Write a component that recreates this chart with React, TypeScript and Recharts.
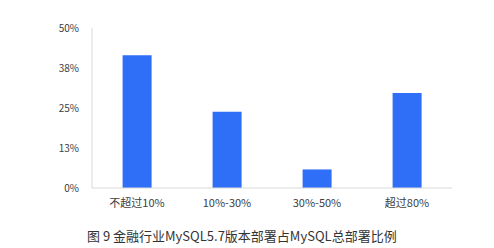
import React from 'react';
import { BarChart, Bar, XAxis, YAxis } from 'recharts';

const categories = ['不超过10%', '10%-30%', '30%-50%', '超过80%'];
const shares = [0.415, 0.238, 0.058, 0.297];
const yTicks = [0, 0.125, 0.25, 0.375, 0.5];

const data = categories.map((name, i) => ({ name, value: shares[i] }));

const FONT = '"Noto Sans CJK SC", "Noto Sans", sans-serif';

export default function App() {
  return (
    <div style={{ position: 'absolute', left: 0, top: 0, width: 494, height: 248, background: '#fff', fontFamily: FONT }}>
      <BarChart
        width={494}
        height={220}
        data={data}
        margin={{ top: 28, right: 42, bottom: 2, left: 0 }}
        barCategoryGap="34%"
      >
        <XAxis
          dataKey="name"
          height={30}
          axisLine={{ stroke: '#d9d9d9' }}
          tickLine={false}
          tickSize={0}
          tickMargin={11}
          tick={{ fontSize: 11, fill: '#404040', fontFamily: FONT }}
        />
        <YAxis
          width={92}
          domain={[0, 0.5]}
          ticks={yTicks}
          tickFormatter={(v: number) => `${Math.round(v * 100)}%`}
          axisLine={{ stroke: '#d9d9d9' }}
          tickLine={false}
          tickSize={0}
          tickMargin={13}
          tick={{ fontSize: 10, fill: '#404040', fontFamily: FONT }}
        />
        <Bar dataKey="value" fill="#2f6ef6" isAnimationActive={false} />
      </BarChart>
      <div style={{ position: 'absolute', left: 87, top: 227, fontSize: 13, color: '#333', whiteSpace: 'nowrap', lineHeight: '18px' }}>
        图 9 金融行业MySQL5.7版本部署占MySQL总部署比例
      </div>
    </div>
  );
}
